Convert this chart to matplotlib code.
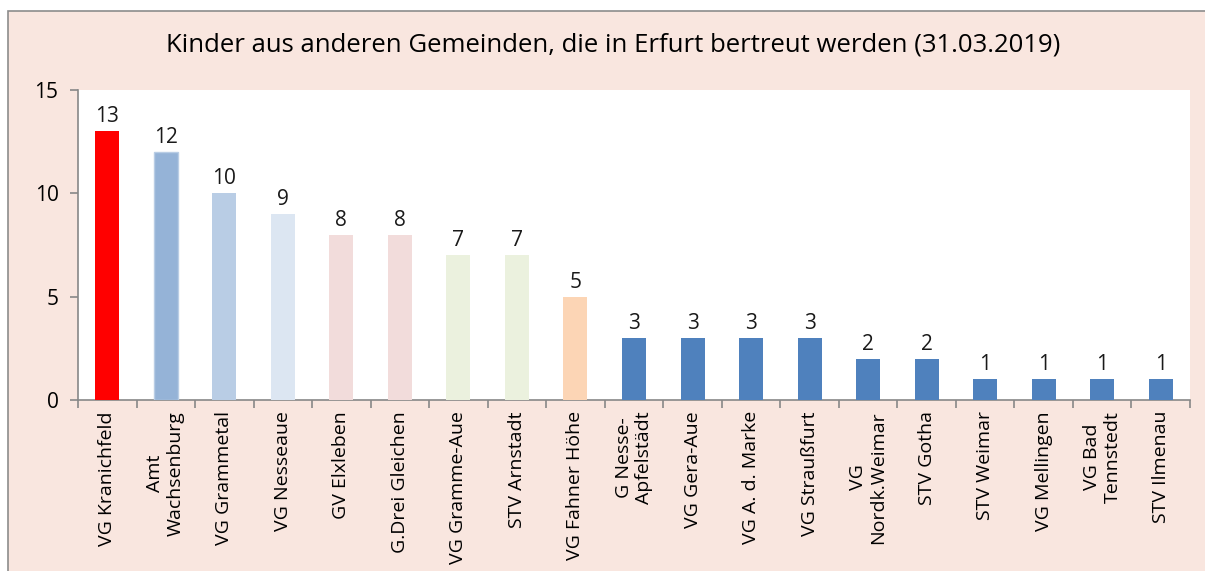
import numpy as np
import matplotlib.pyplot as plt
from matplotlib.patches import Rectangle

plt.rcParams['font.family'] = ['Open Sans', 'DejaVu Sans']

labels = ["VG Kranichfeld", "Amt\nWachsenburg", "VG Grammetal", "VG Nesseaue",
          "GV Elxleben", "G.Drei Gleichen", "VG Gramme-Aue", "STV Arnstadt",
          "VG Fahner Höhe", "G Nesse-\nApfelstädt", "VG Gera-Aue", "VG A. d. Marke",
          "VG Straußfurt", "VG\nNordk.Weimar", "STV Gotha", "STV Weimar",
          "VG Mellingen", "VG Bad\nTennstedt", "STV Ilmenau"]
values = [13, 12, 10, 9, 8, 8, 7, 7, 5, 3, 3, 3, 3, 2, 2, 1, 1, 1, 1]
colors = ["#FF0000", "#95B3D7", "#B9CDE5", "#DCE6F2", "#F2DCDB", "#F2DCDB",
          "#EBF1DE", "#EBF1DE", "#FCD5B5"] + ["#4F81BD"] * 10
title = "Kinder aus anderen Gemeinden, die in Erfurt bertreut werden (31.03.2019)"

fig = plt.figure(figsize=(12.05, 5.71), dpi=100)
fig.patch.set_facecolor("white")
bg = Rectangle((8 / 1205, -0.01), 1.0, 1 - 11 / 571 + 0.01, transform=fig.transFigure,
               facecolor="#F9E6DF", edgecolor="#8C8C8C", linewidth=1.2, zorder=-10)
fig.patches.append(bg)

ax = fig.add_axes([78 / 1205, 1 - 400 / 571, 1112 / 1205, 310 / 571])
ax.set_facecolor("white")
x = np.arange(len(values))
bars = ax.bar(x, values, width=0.41, color=colors, zorder=3)
bars[1].set_edgecolor("#B9CDE5")
bars[1].set_linewidth(1.0)

for xi, v in zip(x, values):
    ax.text(xi, v + 0.2, str(v), ha="center", va="bottom", fontsize=15, color="#1a1a1a")

ax.set_xlim(-0.5, len(values) - 0.5)
ax.set_ylim(0, 15)
ax.set_yticks([0, 5, 10, 15])
ax.tick_params(axis="y", labelsize=15, length=6, color="#888888", width=1.2, pad=8)
ax.set_xticks(x)
ax.set_xticklabels(labels, rotation=90, fontsize=14, multialignment="center")
ax.set_xticks(np.arange(-0.5, len(values), 1), minor=True)
ax.tick_params(axis="x", which="major", length=0, pad=8)
ax.tick_params(axis="x", which="minor", length=6, color="#888888", width=1.2)

for s in ["top", "right"]:
    ax.spines[s].set_visible(False)
for s in ["left", "bottom"]:
    ax.spines[s].set_color("#888888")
    ax.spines[s].set_linewidth(1.2)

fig.text(613 / 1205, 1 - 45 / 571, title, ha="center", va="center", fontsize=18.5)

fig.savefig("out.png", dpi=100)
